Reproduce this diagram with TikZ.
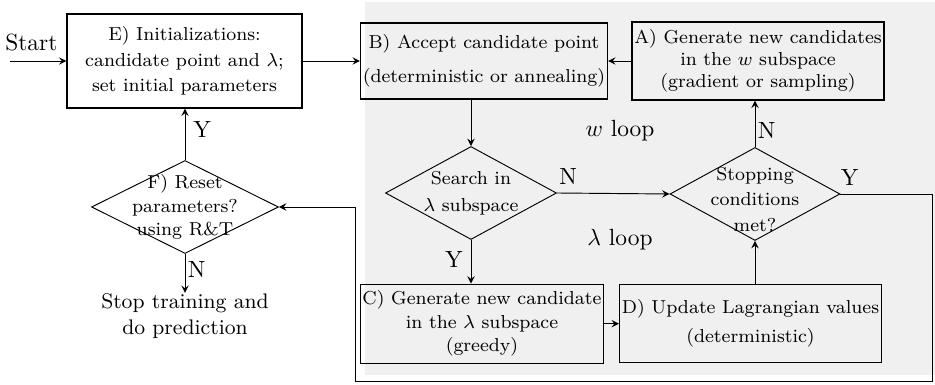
\documentclass[tikz,border=0pt]{standalone}
\usepackage{tikz}
\usetikzlibrary{shapes.geometric,arrows}

\begin{document}
\begin{tikzpicture}[>=stealth,
  box/.style={draw,rectangle,align=center,font=\footnotesize,line width=0.5pt,inner sep=1pt},
  decision/.style={draw,diamond,inner sep=0pt},
  dtext/.style={align=center,font=\footnotesize},
  yn/.style={font=\normalsize}]
  \useasboundingbox (0,0) rectangle (14.025,5.775);
  \fill[gray!12] (5.475,0.15) rectangle (14.025,5.745);

  \node (E) at (2.7675, 4.86)[box,minimum width=3.525cm,minimum height=1.41cm]{E) Initializations:\\[1.5pt] candidate point and $\lambda$;\\[1.5pt] set initial parameters};
  \node (B) at (7.26, 4.86)[box,minimum width=3.39cm,minimum height=1.14cm]{B) Accept candidate point\\[5pt] (deterministic or annealing)};
  \node (A) at (11.37, 4.86)[box,minimum width=3.48cm,minimum height=1.17cm]{A) Generate new candidates\\ in the $w$ subspace\\ (gradient or sampling)};
  % diamonds keep their size, the text sits on top
  \node (search) at (7.065, 2.88)[decision,minimum width=2.565cm,minimum height=1.395cm,
    label={[dtext]center:Search in\\[2pt] $\lambda$ subspace}]{};
  \node (stop) at (11.325, 2.865)[decision,minimum width=2.55cm,minimum height=1.395cm,
    label={[dtext,yshift=-0.08cm]center:Stopping\\[1.5pt] conditions\\[1.5pt] met?}]{};
  \node (F) at (2.775, 2.67)[decision,minimum width=2.805cm,minimum height=1.395cm,
    label={[dtext]center:F) Reset\\[0.5pt] parameters?\\[0.5pt] using R\&T}]{};
  \node (C) at (7.23, 0.92)[box,minimum width=3.33cm,minimum height=1.185cm]{C) Generate new candidate\\[0.5pt] in the $\lambda$ subspace\\[0.5pt] (greedy)};
  \node (D) at (11.2575, 0.92)[box,minimum width=3.585cm,minimum height=1.17cm]{D) Update Lagrangian values\\[3pt] (deterministic)};
  \node (end) at (2.775, 1.035)[align=center,font=\small]{Stop training and\\ do prediction};
  \node (start) at (0.47, 5.13){Start};
  \node (wloop) at (9.3, 3.82)[font=\normalsize]{$w$ loop};
  \node (lloop) at (9.3, 2.18)[font=\normalsize]{$\lambda$ loop};

  \coordinate (s0) at (0.15, 4.86);
  \coordinate (r1) at (13.99, 0.06);
  \coordinate (r2) at (5.325, 0.06);
  \coordinate (endtop) at (2.775, 1.38);

  \draw[->] (s0) -- (E.west);
  \draw[->] (E.east) -- (B.west);
  \draw[->] (A.west) -- (B.east);
  \draw[->] (B.south -| search.north) -- (search.north);
  \draw[->] (search.east) -- node[pos=0.1,above,yn]{N} (stop.west);
  \draw[->] (search.south) -- node[pos=0.45,left,yn]{Y} (C.north -| search.south);
  \draw[->] (C.east) -- (D.west);
  \draw[->] (D.north -| stop.south) -- (stop.south);
  \draw[->] (stop.north) -- node[pos=0.35,right,yn,inner sep=1pt]{N} (A.south -| stop.north);
  \draw[->] (stop.east) -- node[pos=0.1,above,yn]{Y} (stop.east -| r1) -- (r1) -- (r2) |- (F.east);
  \draw[->] (F.north) -- node[pos=0.6,right,yn]{Y} (E.south -| F.north);
  \draw[->] (F.south) -- node[pos=0.4,right,yn,inner sep=1pt]{N} (endtop);
\end{tikzpicture}
\end{document}
